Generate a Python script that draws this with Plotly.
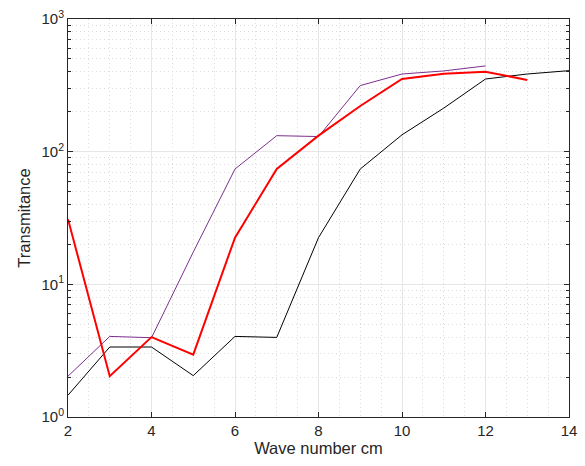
import plotly.graph_objects as go

# Wave number samples (cm) and measured transmittance for three specimens
wave_black = [2, 3, 4, 5, 6, 7, 8, 9, 10, 11, 12, 13, 14]
trans_black = [1.46, 3.37, 3.37, 2.05, 4.05, 3.98, 22.5, 74, 134, 213, 353, 385, 408]

wave_red = [2, 3, 4, 5, 6, 7, 8, 9, 10, 11, 12, 13]
trans_red = [31, 2.03, 4.0, 2.95, 22.5, 74, 132, 221, 353, 387, 401, 347]

wave_purple = [2, 3, 4, 5, 6, 7, 8, 9, 10, 11, 12]
trans_purple = [2.03, 4.05, 3.96, 17.5, 74, 132, 130, 315, 385, 406, 443]

x_ticks = [2, 4, 6, 8, 10, 12, 14]
y_ticks = [1, 10, 100, 1000]
y_ticktext = ["10<sup>0</sup>", "10<sup>1</sup>", "10<sup>2</sup>", "10<sup>3</sup>"]

y_minor = [m * 10 ** d for d in range(3) for m in range(2, 10)]

fig = go.Figure()
fig.add_trace(go.Scatter(x=wave_black, y=trans_black, mode="lines",
                         line=dict(color="black", width=1)))
fig.add_trace(go.Scatter(x=wave_purple, y=trans_purple, mode="lines",
                         line=dict(color="#7E2F8E", width=1)))
fig.add_trace(go.Scatter(x=wave_red, y=trans_red, mode="lines",
                         line=dict(color="#FF0000", width=2)))

tick_font = dict(family="Liberation Sans, Arial, sans-serif", size=15, color="#262626")
title_font = dict(family="Liberation Sans, Arial, sans-serif", size=16.5, color="#262626")

fig.update_layout(
    width=585, height=466,
    margin=dict(l=68, r=8, t=17, b=49),
    paper_bgcolor="white", plot_bgcolor="white",
    showlegend=False,
    font=tick_font,
    xaxis=dict(
        range=[2, 14], tickvals=x_ticks, tickfont=tick_font,
        showline=True, linecolor="#262626", linewidth=1, mirror="ticks",
        ticks="inside", ticklen=5, tickcolor="#262626",
        showgrid=True, gridcolor="#e6e6e6", gridwidth=1,
        zeroline=False,
        minor=dict(dtick=0.5, ticks="", showgrid=True, gridcolor="#dcdcdc",
                   griddash="1px,3px", gridwidth=1),
        title=dict(text="Wave number cm", font=title_font, standoff=4),
    ),
    yaxis=dict(
        type="log", range=[0, 3], tickvals=y_ticks, ticktext=y_ticktext,
        tickfont=tick_font,
        showline=True, linecolor="#262626", linewidth=1, mirror="ticks",
        ticks="inside", ticklen=5, tickcolor="#262626",
        showgrid=True, gridcolor="#e6e6e6", gridwidth=1,
        zeroline=False,
        minor=dict(tickvals=y_minor, ticks="inside", ticklen=3, tickcolor="#262626",
                   showgrid=True, gridcolor="#dcdcdc", griddash="1px,3px", gridwidth=1),
        title=dict(text="Transmitance", font=title_font, standoff=6),
    ),
)

fig.write_html("out.html")
